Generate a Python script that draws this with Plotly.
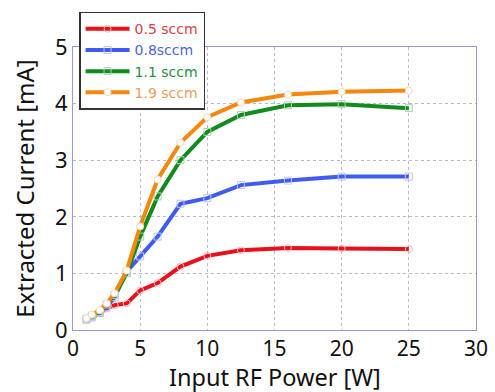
import plotly.graph_objects as go

power = [1, 1.4, 2, 2.5, 3.1, 4, 5, 6.3, 8, 10, 12.5, 16, 20, 25]
current_05 = [0.20, 0.22, 0.30, 0.38, 0.44, 0.47, 0.70, 0.83, 1.12, 1.31, 1.41, 1.45, 1.44, 1.43]
current_08 = [0.18, 0.22, 0.30, 0.40, 0.58, 1.03, 1.30, 1.65, 2.23, 2.33, 2.56, 2.64, 2.71, 2.71]
current_11 = [0.20, 0.25, 0.32, 0.45, 0.62, 1.00, 1.65, 2.36, 3.00, 3.50, 3.80, 3.97, 3.99, 3.92]
current_19 = [0.21, 0.27, 0.35, 0.47, 0.65, 1.05, 1.83, 2.66, 3.31, 3.76, 4.02, 4.16, 4.21, 4.23]

names = ["0.5 sccm", "0.8sccm", "1.1 sccm", "1.9 sccm"]
series = [current_05, current_08, current_11, current_19]
line_colors = ["#e8101a", "#3f5cf2", "#118a1e", "#f5870f"]
text_colors = ["#d8404e", "#5166d6", "#2a8f45", "#eba05a"]
marker_lines = ["#f6b8be", "#bcc6f6", "#a8d4ae", "#f8d8b8"]
symbols = ["circle", "square", "square", "circle"]
fills = ["rgba(255,255,255,0)", "rgba(255,255,255,0)", "rgba(255,255,255,0)", "#ffffff"]

x_title = "Input RF Power [W]"
y_title = "Extracted Current [mA]"

fig = go.Figure()
for nm, ys, lc, tc, ml, sy, fc in zip(names, series, line_colors, text_colors, marker_lines, symbols, fills):
    fig.add_trace(go.Scatter(
        x=power, y=ys, mode="lines+markers",
        name=f"<span style='color:{tc}'>{nm}</span>",
        line=dict(color=lc, width=4),
        marker=dict(symbol=sy, size=7, color=fc, line=dict(color=ml, width=1)),
    ))

grid = "#b8b8d4"
frame = "#9a9ad0"
fig.update_layout(
    width=495, height=392,
    margin=dict(l=73, r=19, t=47, b=62, autoexpand=False),
    paper_bgcolor="white", plot_bgcolor="white",
    font=dict(family="Noto Sans, Open Sans, sans-serif", color="#111111"),
    showlegend=True,
    legend=dict(
        x=0.015, y=1.125, xanchor="left", yanchor="top",
        bgcolor="white", bordercolor="#333333", borderwidth=1.5,
        font=dict(size=14, family="DejaVu Sans"), itemwidth=44, tracegroupgap=0,
    ),
    xaxis=dict(
        range=[0, 30], tickvals=[0, 5, 10, 15, 20, 25, 30], automargin=False,
        tickfont=dict(size=21, color="#111111"), showgrid=True, gridcolor=grid, griddash="dot",
        gridwidth=1, zeroline=False, showline=True, linecolor=frame, linewidth=1,
        mirror=True, ticks="",
    ),
    yaxis=dict(
        range=[0, 5], tickvals=[0, 1, 2, 3, 4, 5], automargin=False,
        tickfont=dict(size=22, color="#111111"), showgrid=True, gridcolor=grid, griddash="dot",
        gridwidth=1, zeroline=False, showline=True, linecolor=frame, linewidth=1,
        mirror=True, ticks="", title=dict(text=y_title, font=dict(size=24), standoff=13),
    ),
    annotations=[dict(
        text=x_title, xref="paper", yref="paper", x=0.5, y=-0.226,
        xanchor="center", yanchor="bottom", showarrow=False, borderpad=0,
        font=dict(size=23.5, color="#111111"),
    )],
)

fig.write_html("out.html", config={"displayModeBar": False},
               post_script="document.body.style.margin='0';")
